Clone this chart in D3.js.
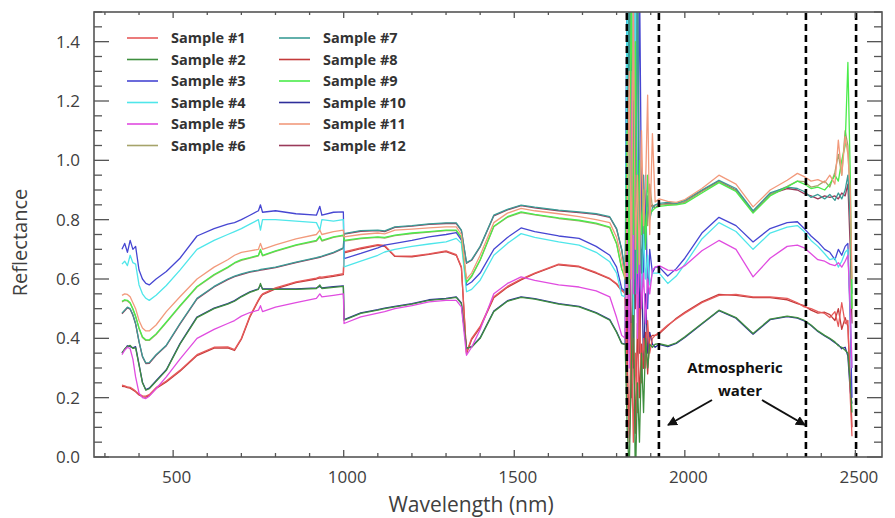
<!DOCTYPE html>
<html>
<head>
<meta charset="utf-8">
<script src="https://cdn.jsdelivr.net/npm/d3@7"></script>
<style>
  body { margin: 0; background: #fff; }
  svg { display: block; }
</style>
</head>
<body>
<div id="vis"></div>
<script>
// wavelengths (nm) shared by every spectrum
const wavelengths = [
  350, 358, 366, 374, 382, 390, 400, 410, 420, 430, 450, 480, 520, 570, 620, 660, 680, 700, 725, 750, 756, 762, 800, 860, 920, 930, 936, 970, 999,
  1001, 1050, 1100, 1120, 1150, 1200, 1250, 1300, 1330, 1345, 1360, 1375, 1400, 1440, 1480, 1520, 1560, 1630, 1690, 1740, 1780, 1800, 1815,
  1825, 1831, 1837, 1843, 1849, 1855, 1861, 1867, 1873, 1879, 1885, 1891, 1897, 1905, 1913,
  1925, 1950, 1975, 2000, 2050, 2100, 2150, 2200, 2250, 2300, 2330, 2350, 2370, 2390, 2410, 2425, 2440, 2450, 2460, 2470, 2478, 2485, 2490
];

const sample1 = [
  0.242, 0.240, 0.236, 0.235, 0.229, 0.222, 0.212, 0.206, 0.205, 0.210, 0.234, 0.256, 0.292, 0.345, 0.370, 0.371, 0.362, 0.400, 0.475, 0.530, 0.542, 0.550, 0.570, 0.590, 0.603, 0.607, 0.606, 0.612, 0.618,
  0.691, 0.705, 0.716, 0.713, 0.678, 0.677, 0.685, 0.695, 0.682, 0.641, 0.352, 0.400, 0.440, 0.540, 0.575, 0.600, 0.620, 0.650, 0.643, 0.622, 0.602, 0.585, 0.562,
  0.55, 0.20, 0.10, 0.45, 0.05, 0.35, 0.15, 0.50, 0.25, 0.40, 0.30, 0.46, 0.35, 0.40, 0.41,
  0.420, 0.445, 0.465, 0.485, 0.520, 0.545, 0.548, 0.540, 0.540, 0.535, 0.520, 0.506, 0.500, 0.490, 0.484, 0.470, 0.490, 0.440, 0.520, 0.450, 0.460, 0.200, 0.070
];
const sample2 = [
  0.350, 0.365, 0.372, 0.376, 0.366, 0.368, 0.310, 0.250, 0.225, 0.230, 0.255, 0.292, 0.380, 0.470, 0.500, 0.515, 0.525, 0.540, 0.555, 0.565, 0.585, 0.565, 0.565, 0.565, 0.568, 0.580, 0.568, 0.572, 0.575,
  0.461, 0.484, 0.495, 0.500, 0.506, 0.515, 0.528, 0.533, 0.538, 0.517, 0.366, 0.370, 0.400, 0.490, 0.525, 0.538, 0.532, 0.515, 0.506, 0.485, 0.461, 0.420, 0.382,
  0.38, 0.10, -0.05, 0.30, 0.60, -0.10, 0.25, 0.05, 0.35, 0.15, 0.40, 0.30, 0.38, 0.37, 0.38,
  0.382, 0.375, 0.385, 0.405, 0.450, 0.495, 0.470, 0.416, 0.465, 0.475, 0.470, 0.461, 0.445, 0.425, 0.410, 0.400, 0.388, 0.375, 0.370, 0.360, 0.350, 0.250, 0.150
];
const sample3 = [
  0.700, 0.720, 0.690, 0.730, 0.700, 0.710, 0.630, 0.600, 0.585, 0.580, 0.600, 0.625, 0.670, 0.745, 0.770, 0.785, 0.790, 0.800, 0.815, 0.830, 0.850, 0.825, 0.830, 0.820, 0.815, 0.845, 0.815, 0.825, 0.826,
  0.669, 0.686, 0.705, 0.714, 0.720, 0.730, 0.742, 0.750, 0.756, 0.731, 0.579, 0.590, 0.620, 0.700, 0.740, 0.772, 0.760, 0.745, 0.737, 0.710, 0.680, 0.640, 0.568,
  0.56, 1.65, 0.45, 1.70, 0.60, 1.60, 0.55, 1.65, 0.85, 0.60, 0.95, 0.50, 0.70, 0.62, 0.64,
  0.640, 0.610, 0.635, 0.670, 0.755, 0.808, 0.780, 0.725, 0.770, 0.790, 0.793, 0.770, 0.745, 0.725, 0.700, 0.690, 0.665, 0.700, 0.680, 0.710, 0.720, 0.450, 0.200
];
const sample4 = [
  0.650, 0.660, 0.645, 0.680, 0.655, 0.650, 0.580, 0.550, 0.535, 0.528, 0.545, 0.578, 0.630, 0.700, 0.730, 0.750, 0.760, 0.770, 0.785, 0.800, 0.765, 0.800, 0.800, 0.795, 0.790, 0.765, 0.800, 0.795, 0.800,
  0.641, 0.660, 0.680, 0.691, 0.700, 0.710, 0.718, 0.725, 0.737, 0.720, 0.557, 0.565, 0.596, 0.680, 0.720, 0.753, 0.740, 0.725, 0.714, 0.690, 0.658, 0.620, 0.545,
  0.54, 1.60, 0.70, 1.20, 0.48, 1.70, 0.62, 0.90, 0.55, 0.75, 0.60, 0.68, 0.58, 0.62, 0.62,
  0.620, 0.585, 0.610, 0.650, 0.735, 0.790, 0.760, 0.700, 0.755, 0.775, 0.780, 0.760, 0.730, 0.710, 0.685, 0.665, 0.670, 0.640, 0.660, 0.690, 0.700, 0.500, 0.300
];
const sample5 = [
  0.345, 0.360, 0.370, 0.365, 0.330, 0.270, 0.215, 0.200, 0.197, 0.205, 0.230, 0.270, 0.330, 0.400, 0.430, 0.450, 0.460, 0.475, 0.487, 0.495, 0.510, 0.490, 0.505, 0.520, 0.535, 0.550, 0.540, 0.545, 0.550,
  0.450, 0.472, 0.485, 0.490, 0.500, 0.510, 0.523, 0.528, 0.528, 0.506, 0.343, 0.370, 0.430, 0.550, 0.585, 0.607, 0.595, 0.580, 0.573, 0.560, 0.540, 0.470, 0.410,
  0.40, 0.80, 0.30, 1.30, 0.55, 0.95, 0.40, 0.75, 0.50, 0.62, 0.45, 0.60, 0.55, 0.63, 0.64,
  0.645, 0.630, 0.628, 0.645, 0.695, 0.730, 0.700, 0.607, 0.670, 0.710, 0.714, 0.705, 0.685, 0.665, 0.660, 0.650, 0.645, 0.655, 0.640, 0.660, 0.680, 0.500, 0.300
];
const sample6 = [
  0.523, 0.528, 0.526, 0.518, 0.498, 0.473, 0.433, 0.403, 0.393, 0.393, 0.413, 0.453, 0.508, 0.573, 0.613, 0.638, 0.653, 0.663, 0.670, 0.678, 0.696, 0.678, 0.693, 0.713, 0.728, 0.742, 0.728, 0.740, 0.746,
  0.728, 0.736, 0.740, 0.738, 0.746, 0.753, 0.758, 0.763, 0.763, 0.738, 0.588, 0.608, 0.663, 0.776, 0.808, 0.824, 0.816, 0.804, 0.796, 0.786, 0.773, 0.718, 0.633,
  0.61, 0.90, 1.60, 0.65, 1.30, 0.60, 1.70, 0.85, 1.00, 0.70, 0.90, 0.78, 0.92, 0.84, 0.85,
  0.850, 0.852, 0.852, 0.860, 0.895, 0.928, 0.898, 0.828, 0.885, 0.912, 0.930, 0.928, 0.910, 0.915, 0.930, 0.910, 0.960, 1.020, 0.950, 1.100, 1.050, 0.850, 0.500
];
const sample7 = [
  0.485, 0.495, 0.505, 0.500, 0.480, 0.450, 0.390, 0.340, 0.317, 0.318, 0.345, 0.377, 0.450, 0.535, 0.575, 0.600, 0.610, 0.617, 0.625, 0.630, 0.632, 0.633, 0.640, 0.657, 0.672, 0.675, 0.677, 0.690, 0.705,
  0.753, 0.763, 0.765, 0.762, 0.776, 0.780, 0.786, 0.789, 0.789, 0.765, 0.655, 0.665, 0.710, 0.815, 0.835, 0.849, 0.842, 0.832, 0.826, 0.820, 0.810, 0.770, 0.700,
  0.62, 0.95, 1.60, 0.70, 1.20, 0.55, 1.65, 0.80, 0.62, 0.95, 0.72, 0.88, 0.80, 0.84, 0.85,
  0.855, 0.858, 0.855, 0.865, 0.900, 0.933, 0.905, 0.830, 0.890, 0.910, 0.905, 0.895, 0.875, 0.885, 0.870, 0.885, 0.865, 0.890, 0.870, 0.900, 0.950, 0.800, 0.550
];
const sample8 = [
  0.238, 0.237, 0.234, 0.232, 0.226, 0.220, 0.209, 0.203, 0.202, 0.207, 0.231, 0.253, 0.289, 0.342, 0.367, 0.368, 0.359, 0.397, 0.472, 0.527, 0.538, 0.547, 0.567, 0.588, 0.600, 0.604, 0.603, 0.609, 0.615,
  0.688, 0.702, 0.713, 0.710, 0.676, 0.675, 0.683, 0.692, 0.680, 0.638, 0.348, 0.396, 0.436, 0.537, 0.572, 0.597, 0.618, 0.648, 0.641, 0.620, 0.600, 0.582, 0.560,
  0.56, 0.35, 0.05, 0.25, 0.40, 0.08, 0.45, 0.20, 0.38, 0.30, 0.42, 0.28, 0.40, 0.41, 0.41,
  0.415, 0.442, 0.468, 0.488, 0.523, 0.548, 0.545, 0.537, 0.537, 0.530, 0.517, 0.510, 0.495, 0.485, 0.488, 0.480, 0.460, 0.500, 0.430, 0.470, 0.440, 0.250, 0.100
];
const sample9 = [
  0.525, 0.530, 0.528, 0.520, 0.500, 0.475, 0.435, 0.405, 0.395, 0.395, 0.415, 0.455, 0.510, 0.575, 0.615, 0.640, 0.655, 0.665, 0.672, 0.680, 0.700, 0.680, 0.695, 0.715, 0.730, 0.745, 0.730, 0.742, 0.748,
  0.730, 0.738, 0.742, 0.740, 0.748, 0.755, 0.760, 0.765, 0.765, 0.740, 0.590, 0.610, 0.665, 0.778, 0.810, 0.826, 0.818, 0.806, 0.798, 0.788, 0.775, 0.720, 0.635,
  0.60, 1.10, 0.55, 1.70, 0.75, 1.40, 0.62, 1.00, 0.75, 0.90, 0.70, 0.95, 0.82, 0.83, 0.84,
  0.845, 0.848, 0.850, 0.855, 0.890, 0.925, 0.895, 0.822, 0.880, 0.910, 0.930, 0.920, 0.905, 0.910, 0.900, 0.920, 0.950, 0.930, 1.000, 1.050, 1.330, 0.950, 0.500
];
const sample10 = [
  0.352, 0.362, 0.375, 0.372, 0.368, 0.372, 0.312, 0.252, 0.227, 0.232, 0.257, 0.294, 0.382, 0.472, 0.502, 0.517, 0.527, 0.542, 0.557, 0.567, 0.580, 0.567, 0.567, 0.567, 0.570, 0.575, 0.570, 0.574, 0.577,
  0.463, 0.486, 0.497, 0.502, 0.508, 0.517, 0.530, 0.535, 0.540, 0.519, 0.368, 0.372, 0.402, 0.492, 0.527, 0.540, 0.534, 0.517, 0.508, 0.487, 0.463, 0.422, 0.384,
  0.38, 1.70, 0.35, 1.60, 0.30, 0.90, 1.65, 0.40, 0.70, 0.30, 0.55, 0.35, 0.42, 0.38, 0.37,
  0.380, 0.372, 0.383, 0.403, 0.448, 0.493, 0.468, 0.414, 0.463, 0.473, 0.468, 0.459, 0.443, 0.423, 0.408, 0.398, 0.385, 0.378, 0.365, 0.370, 0.340, 0.220, 0.180
];
const sample11 = [
  0.545, 0.550, 0.548, 0.540, 0.520, 0.500, 0.460, 0.435, 0.425, 0.425, 0.445, 0.490, 0.540, 0.600, 0.640, 0.665, 0.680, 0.690, 0.695, 0.700, 0.720, 0.700, 0.715, 0.735, 0.750, 0.765, 0.750, 0.760, 0.765,
  0.742, 0.750, 0.755, 0.752, 0.765, 0.768, 0.772, 0.776, 0.776, 0.750, 0.600, 0.620, 0.680, 0.790, 0.822, 0.838, 0.830, 0.820, 0.810, 0.800, 0.790, 0.740, 0.665,
  0.60, 0.80, 1.30, 0.60, 1.55, 0.70, 0.95, 0.65, 1.10, 0.78, 0.92, 1.22, 0.75, 1.09, 0.86,
  0.870, 0.862, 0.858, 0.868, 0.905, 0.950, 0.920, 0.843, 0.900, 0.933, 0.956, 0.945, 0.930, 0.935, 0.925, 0.950, 0.920, 1.068, 0.950, 1.080, 1.020, 0.900, 0.600
];
const sample12 = [
  0.483, 0.493, 0.503, 0.498, 0.478, 0.448, 0.388, 0.338, 0.315, 0.316, 0.343, 0.375, 0.448, 0.533, 0.573, 0.598, 0.608, 0.615, 0.623, 0.628, 0.630, 0.631, 0.638, 0.655, 0.670, 0.673, 0.675, 0.688, 0.703,
  0.751, 0.761, 0.763, 0.760, 0.774, 0.778, 0.784, 0.787, 0.787, 0.763, 0.653, 0.663, 0.708, 0.813, 0.833, 0.847, 0.840, 0.830, 0.824, 0.818, 0.808, 0.768, 0.698,
  0.62, 0.30, 0.90, 0.20, 1.00, 0.50, 0.70, 0.35, 0.60, 0.75, 0.80, 0.82, 0.84, 0.85, 0.84,
  0.850, 0.855, 0.852, 0.860, 0.897, 0.930, 0.900, 0.826, 0.886, 0.905, 0.900, 0.888, 0.880, 0.870, 0.880, 0.875, 0.880, 0.870, 0.890, 0.880, 0.920, 0.700, 0.450
];

const sampleNames = ['Sample #1', 'Sample #2', 'Sample #3', 'Sample #4', 'Sample #5', 'Sample #6',
  'Sample #7', 'Sample #8', 'Sample #9', 'Sample #10', 'Sample #11', 'Sample #12'];
const sampleColors = ['#e65a5a', '#3f8f3f', '#4646d2', '#4fe6ea', '#e04ce0', '#a6a36a',
  '#3a9c96', '#c43a3a', '#4aec4a', '#2e2e9a', '#f29a7c', '#9a3a5a'];
const spectra = [sample1, sample2, sample3, sample4, sample5, sample6,
  sample7, sample8, sample9, sample10, sample11, sample12];
// which sample goes on top of which (last drawn is on top)
const drawOrder = [10, 12, 6, 8, 1, 2, 3, 4, 5, 7, 9, 11];

const xTicks = [500, 1000, 1500, 2000, 2500];
const yTicks = [0, 0.2, 0.4, 0.6, 0.8, 1.0, 1.2, 1.4];
// atmospheric water bands, marked with dashed lines
const waterBands = [1830, 1924, 2355, 2502];

const W = 895, H = 518;
const margin = { top: 12, left: 94, right: 13, bottom: 61 };

let svg = d3.select('#vis')
  .append('svg')
  .attr('width', W)
  .attr('height', H)
  .style('background-color', 'white');

let x = d3.scaleLinear().domain([268, 2578]).range([margin.left, W - margin.right]);
let y = d3.scaleLinear().domain([0, 1.5]).range([H - margin.bottom, margin.top]);

const axisColor = '#555';
const textColor = '#404040';
const font = "'Open Sans', 'Noto Sans', sans-serif";

svg.append('clipPath').attr('id', 'plot-clip')
  .append('rect')
  .attr('x', margin.left).attr('y', margin.top)
  .attr('width', W - margin.left - margin.right)
  .attr('height', H - margin.top - margin.bottom);

// spectra
let line = d3.line()
  .x((d, i) => x(wavelengths[i]))
  .y(d => y(d));

svg.append('g')
  .attr('clip-path', 'url(#plot-clip)')
  .selectAll('path')
  .data(drawOrder)
  .join('path')
  .attr('d', n => line(spectra[n - 1]))
  .attr('fill', 'none')
  .attr('stroke', n => sampleColors[n - 1])
  .attr('stroke-width', 1.3)
  .attr('stroke-linejoin', 'round');

// dashed water band markers
svg.append('g')
  .selectAll('line')
  .data(waterBands)
  .join('line')
  .attr('x1', d => x(d)).attr('x2', d => x(d))
  .attr('y1', margin.top + 1).attr('y2', H - margin.bottom)
  .attr('stroke', '#000')
  .attr('stroke-width', 2.6)
  .attr('stroke-dasharray', '7,4');

// axes: ticks point inward on all four sides
let yMinor = d3.range(0, 1.5001, 0.05);
let xMinor = d3.range(300, 2501, 100);

let axisLeft = d3.axisLeft(y).tickValues(yTicks).tickFormat(d3.format('.1f')).tickSize(0).tickPadding(14);
let gL = svg.append('g').attr('transform', `translate(${margin.left},0)`).call(axisLeft);
gL.select('.domain').remove();
gL.selectAll('text').attr('font-family', font).attr('font-size', 17).attr('fill', textColor);

let axisBottom = d3.axisBottom(x).tickValues(xTicks).tickFormat(d3.format('d')).tickSize(0).tickPadding(14);
let gB = svg.append('g').attr('transform', `translate(3,${H - margin.bottom})`).call(axisBottom);
gB.select('.domain').remove();
gB.selectAll('text').attr('font-family', font).attr('font-size', 17).attr('fill', textColor);

let ticks = svg.append('g').attr('stroke', axisColor).attr('stroke-width', 1.3);
const x0 = margin.left, x1 = W - margin.right, y0 = H - margin.bottom, y1 = margin.top;
yMinor.forEach((v, i) => {
  let major = i % 4 === 0;
  let len = major ? 15 : 8;
  ticks.append('line').attr('x1', x0).attr('x2', x0 + len).attr('y1', y(v)).attr('y2', y(v));
  ticks.append('line').attr('x1', x1).attr('x2', x1 - len).attr('y1', y(v)).attr('y2', y(v));
});
xMinor.forEach(v => {
  let major = v % 500 === 0;
  ticks.append('line').attr('x1', x(v)).attr('x2', x(v)).attr('y1', y0).attr('y2', y0 - (major ? 7 : 4));
  ticks.append('line').attr('x1', x(v)).attr('x2', x(v)).attr('y1', y1).attr('y2', y1 + (major ? 6 : 3));
});

svg.append('rect')
  .attr('x', x0).attr('y', y1)
  .attr('width', x1 - x0).attr('height', y0 - y1)
  .attr('fill', 'none')
  .attr('stroke', axisColor)
  .attr('stroke-width', 1.6);

// axis titles
svg.append('text')
  .attr('x', 471).attr('y', 512)
  .attr('text-anchor', 'middle')
  .attr('font-family', font).attr('font-size', 21)
  .attr('fill', textColor)
  .text('Wavelength (nm)');

svg.append('text')
  .attr('transform', `translate(27,${(y0 + y1) / 2 + 8}) rotate(-90)`)
  .attr('text-anchor', 'middle')
  .attr('font-family', font).attr('font-size', 20)
  .attr('fill', textColor)
  .text('Reflectance');

// legend, two columns of six
let legend = svg.append('g');
sampleNames.forEach((name, i) => {
  let col = Math.floor(i / 6), row = i % 6;
  let lx = 127 + col * 152, ly = 38 + row * 21.5;
  legend.append('line')
    .attr('x1', lx).attr('x2', lx + 31)
    .attr('y1', ly).attr('y2', ly)
    .attr('stroke', sampleColors[i]).attr('stroke-width', 1.6);
  legend.append('text')
    .attr('x', lx + 44).attr('y', ly + 5)
    .attr('font-family', font).attr('font-weight', 'bold').attr('font-size', 14.5)
    .attr('fill', '#333')
    .text(name);
});

// annotation
svg.append('defs').append('marker')
  .attr('id', 'arrow')
  .attr('viewBox', '0 0 10 10')
  .attr('refX', 9).attr('refY', 5)
  .attr('markerWidth', 5).attr('markerHeight', 5)
  .attr('orient', 'auto')
  .append('path').attr('d', 'M0,0 L10,5 L0,10 z').attr('fill', '#111');

svg.append('text')
  .attr('x', 735).attr('y', 373)
  .attr('text-anchor', 'middle')
  .attr('font-family', font).attr('font-weight', 'bold').attr('font-size', 15)
  .attr('fill', '#111')
  .text('Atmospheric');
svg.append('text')
  .attr('x', 740).attr('y', 396)
  .attr('text-anchor', 'middle')
  .attr('font-family', font).attr('font-weight', 'bold').attr('font-size', 15)
  .attr('fill', '#111')
  .text('water');

svg.append('line')
  .attr('x1', 712).attr('y1', 400).attr('x2', 668).attr('y2', 425)
  .attr('stroke', '#111').attr('stroke-width', 2).attr('marker-end', 'url(#arrow)');
svg.append('line')
  .attr('x1', 762).attr('y1', 400).attr('x2', 805).attr('y2', 425)
  .attr('stroke', '#111').attr('stroke-width', 2).attr('marker-end', 'url(#arrow)');
</script>
</body>
</html>
